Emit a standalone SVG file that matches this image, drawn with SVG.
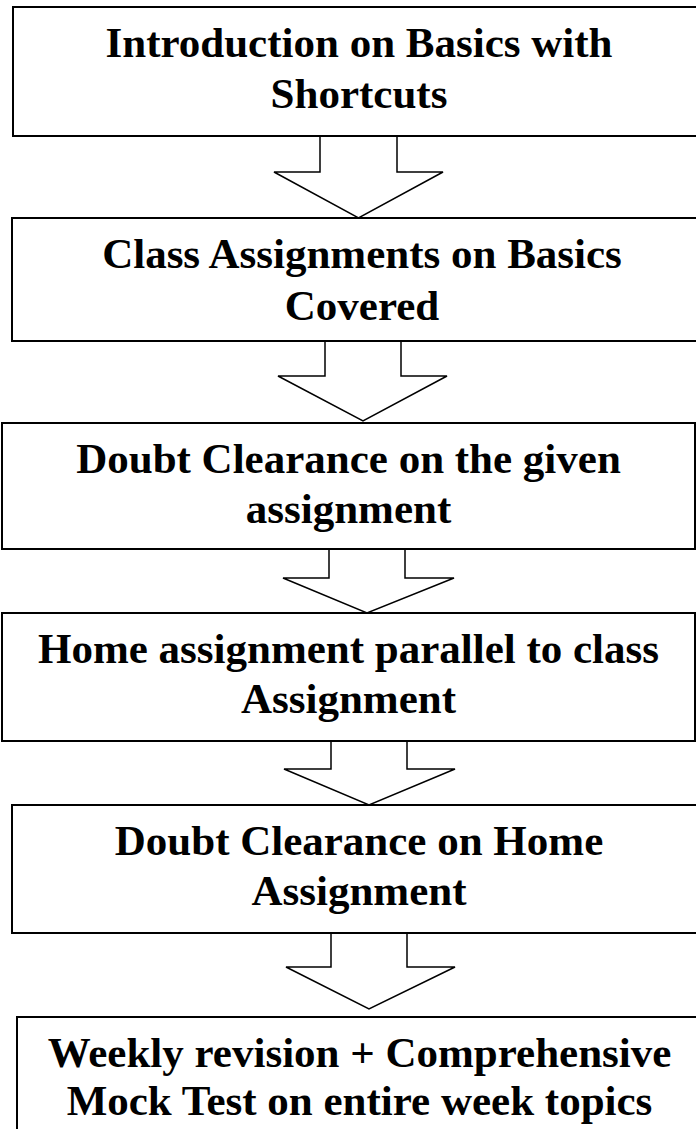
<svg xmlns="http://www.w3.org/2000/svg" width="696" height="1129" viewBox="0 0 696 1129">
<style>
.box{fill:#fff;stroke:#000;stroke-width:2}
.arr{fill:#fff;stroke:#000;stroke-width:1.5;stroke-linejoin:miter}
.t{font-family:"Liberation Serif","Times New Roman",serif;font-weight:bold;font-size:43px;fill:#000;text-anchor:middle}
</style>
<rect width="696" height="1129" fill="#fff"/>
<g id="connectors">
<polygon class="arr" points="320,136 397,136 397,172 443,172 358.5,218 274,172 320,172"/>
<polygon class="arr" points="325,341 401,341 401,376 447,376 363,421 278,376 325,376"/>
<polygon class="arr" points="329,549 405,549 405,578 454,578 367,613 283,578 329,578"/>
<polygon class="arr" points="331,741 407,741 407,769 455,769 369,805 284,769 331,769"/>
<polygon class="arr" points="331,933 407,933 407,967 455,967 369,1009 286,967 331,967"/>
</g>
<g id="node1">
<rect class="box" x="13" y="7" width="700" height="129"/>
<text class="t" x="359" y="57">Introduction on Basics with</text>
<text class="t" x="359" y="108">Shortcuts</text>
</g>
<g id="node2">
<rect class="box" x="12" y="218" width="710" height="123"/>
<text class="t" x="362" y="268">Class Assignments on Basics</text>
<text class="t" x="362" y="320">Covered</text>
</g>
<g id="node3">
<rect class="box" x="2" y="423" width="693" height="126"/>
<text class="t" x="348.5" y="473">Doubt Clearance on the given</text>
<text class="t" x="348.5" y="523">assignment</text>
</g>
<g id="node4">
<rect class="box" x="2" y="613" width="693" height="128"/>
<text class="t" x="348.5" y="663">Home assignment parallel to class</text>
<text class="t" x="348.5" y="713">Assignment</text>
</g>
<g id="node5">
<rect class="box" x="12" y="805" width="700" height="128"/>
<text class="t" x="359" y="855">Doubt Clearance on Home</text>
<text class="t" x="359" y="905">Assignment</text>
</g>
<g id="node6">
<rect class="box" x="17" y="1017" width="700" height="140"/>
<text class="t" x="359.5" y="1067">Weekly revision + Comprehensive</text>
<text class="t" x="359.5" y="1115">Mock Test on entire week topics</text>
</g>
</svg>
